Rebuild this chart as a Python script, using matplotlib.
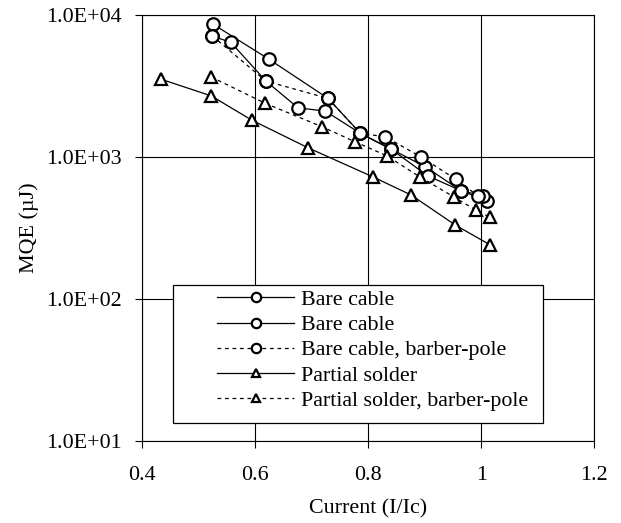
import matplotlib
matplotlib.use("Agg")
import matplotlib.pyplot as plt
from matplotlib.patches import Rectangle
from matplotlib.ticker import FixedLocator, FuncFormatter

plt.rcParams['font.family'] = ['Liberation Serif', 'DejaVu Serif']

# bare cable, first run
bare1_x = [0.526, 0.624, 0.729, 0.786, 0.840, 0.901, 0.964, 1.010]
bare1_y = [8600, 4900, 2590, 1470, 1140, 855, 580, 492]
# bare cable, second run
bare2_x = [0.524, 0.557, 0.619, 0.676, 0.724, 0.786, 0.840, 0.905, 0.964, 1.003]
bare2_y = [7140, 6420, 3430, 2220, 2110, 1470, 1140, 738, 580, 533]
# bare cable, barber-pole
bare_bp_x = [0.524, 0.619, 0.729, 0.786, 0.830, 0.894, 0.955, 0.994]
bare_bp_y = [7140, 3430, 2590, 1470, 1390, 1000, 697, 533]
# partial solder
ps_x = [0.433, 0.522, 0.594, 0.694, 0.808, 0.876, 0.954, 1.016]
ps_y = [3540, 2700, 1820, 1160, 726, 540, 332, 240]
# partial solder, barber-pole
ps_bp_x = [0.522, 0.618, 0.719, 0.777, 0.833, 0.891, 0.951, 0.990, 1.016]
ps_bp_y = [3670, 2390, 1630, 1280, 1020, 726, 525, 424, 376]

xticks = [0.4, 0.6, 0.8, 1.0, 1.2]
yticks = [1e1, 1e2, 1e3, 1e4]

fs = 15.8

fig = plt.figure(figsize=(6.21, 5.23), dpi=100)
ax = fig.add_axes([0.229, 0.157, 0.728, 0.814])

mk = dict(mfc='white', mec='black', mew=1.6, color='black', lw=0.9)
ax.plot(bare1_x, bare1_y, '-', marker='o', ms=9, label='Bare cable', **mk)
ax.plot(bare2_x, bare2_y, '-', marker='o', ms=9, label='Bare cable', **mk)
ax.plot(bare_bp_x, bare_bp_y, '--', marker='o', ms=9, dashes=(3, 3),
        label='Bare cable, barber-pole', **mk)
ax.plot(ps_x, ps_y, '-', marker='^', ms=8, label='Partial solder', **mk)
ax.plot(ps_bp_x, ps_bp_y, '--', marker='^', ms=8, dashes=(3, 3),
        label='Partial solder, barber-pole', **mk)

ax.set_yscale('log')
ax.set_xlim(0.4, 1.2)
ax.set_ylim(10, 10000)
ax.xaxis.set_major_locator(FixedLocator(xticks))
ax.yaxis.set_major_locator(FixedLocator(yticks))
ax.yaxis.set_minor_locator(FixedLocator([]))
ax.xaxis.set_major_formatter(FuncFormatter(lambda v, p: '%g' % v))
ax.yaxis.set_major_formatter(FuncFormatter(lambda v, p: '%.1E' % v))
ax.tick_params(axis='both', direction='out', length=5, width=0.8,
               labelsize=fs, colors='black')
ax.tick_params(axis='x', pad=13)
ax.tick_params(axis='y', pad=10)
ax.grid(True, which='major', color='black', lw=0.8)
for s in ax.spines.values():
    s.set_linewidth(0.8)

ax.set_xlabel('Current (I/Ic)', fontsize=fs, labelpad=10)
ax.set_ylabel('MQE (µJ)', fontsize=fs, labelpad=5)

# legend box drawn separately so the entries can sit inset from its left edge
ax.add_patch(Rectangle((0.068, 0.042), 0.819, 0.324, transform=ax.transAxes,
                       facecolor='white', edgecolor='black', lw=0.9, zorder=4))
leg = ax.legend(loc='upper left', bbox_to_anchor=(0.166, 0.355),
                fontsize=fs, frameon=False, handlelength=3.5,
                handletextpad=0.3, labelspacing=0.22, borderpad=0,
                borderaxespad=0, markerscale=0.75)
leg.set_zorder(5)

fig.savefig('out.png', dpi=100)
